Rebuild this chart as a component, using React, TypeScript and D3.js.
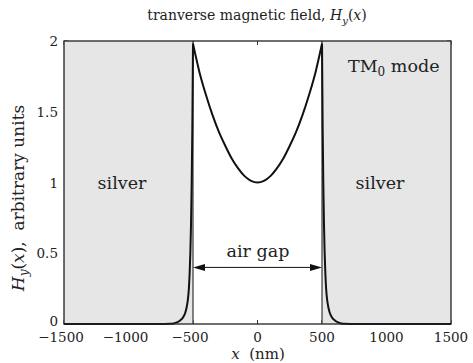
import React from "react";
import * as d3 from "d3";

const xTicks = [-1500, -1000, -500, 0, 500, 1000, 1500];
const xTickLabels = ["\u22121500", "\u22121000", "\u2212500", "0", "500", "1000", "1500"];
const yTicks = [0, 0.5, 1, 1.5, 2];
const yTickLabels = ["0", "0.5", "1", "1.5", "2"];
const silverLeft = [-1500, -500];
const silverRight = [500, 1500];
const gapEdges = [-500, 500];
const arrowLevel = 0.4;

const xNm = [
  -1500, -720, -680, -650, -625, -600, -575, -560, -550, -540, -532, -526, -520, -515, -510, -505,
  -500, -450, -400, -350, -300, -250, -200, -150, -100, -50, 0, 50, 100, 150, 200, 250, 300, 350,
  400, 450, 500, 505, 510, 515, 520, 526, 532, 540, 550, 560, 575, 600, 625, 650, 680, 720, 1500,
];
const hy = [
  0, 0, 0.001, 0.004, 0.011, 0.025, 0.05, 0.08, 0.115, 0.17, 0.25, 0.36, 0.52, 0.72, 1.0, 1.4,
  1.98, 1.78, 1.62, 1.48, 1.36, 1.26, 1.17, 1.1, 1.045, 1.012, 1.0, 1.012, 1.045, 1.1, 1.17, 1.26,
  1.36, 1.48, 1.62, 1.78, 1.98, 1.4, 1.0, 0.72, 0.52, 0.36, 0.25, 0.17, 0.115, 0.08, 0.05, 0.025,
  0.011, 0.004, 0.001, 0, 0,
];

const W = 473;
const H = 363;
const FONT = "'DejaVu Serif', serif";

export default function App() {
  const x = d3.scaleLinear().domain([-1500, 1500]).range([64, 451]);
  const y = d3.scaleLinear().domain([0, 2]).range([324, 41]);
  const pts: [number, number][] = xNm.map((v, i) => [v, hy[i]]);
  const segments = [
    pts.filter((p) => p[0] <= gapEdges[0]),
    pts.filter((p) => p[0] >= gapEdges[0] && p[0] <= gapEdges[1]),
    pts.filter((p) => p[0] >= gapEdges[1]),
  ];
  const line = d3
    .line<[number, number]>()
    .x((d) => x(d[0]))
    .y((d) => y(d[1]))
    .curve(d3.curveMonotoneX);

  const x0 = x.range()[0];
  const x1 = x.range()[1];
  const yTop = y(2);
  const yBot = y(0);
  const ay = y(arrowLevel);
  const aL = x(gapEdges[0]);
  const aR = x(gapEdges[1]);
  const ah = 12;
  const aw = 3.5;

  return (
    <svg
      width={W}
      height={H}
      style={{ position: "fixed", left: 0, top: 0, background: "#fff" }}
      fontFamily={FONT}
    >
      <rect x={0} y={0} width={W} height={H} fill="#fff" />
      {/* ticks */}
      {xTicks.map((t) => (
        <g key={"xt" + t}>
          <line x1={x(t)} x2={x(t)} y1={yBot} y2={yBot - 4} stroke="#333" strokeWidth={1} />
          <line x1={x(t)} x2={x(t)} y1={yTop} y2={yTop + 4} stroke="#333" strokeWidth={1} />
        </g>
      ))}
      {yTicks.map((t) => (
        <g key={"yt" + t}>
          <line x1={x0} x2={x0 + 4} y1={y(t)} y2={y(t)} stroke="#333" strokeWidth={1} />
          <line x1={x1} x2={x1 - 4} y1={y(t)} y2={y(t)} stroke="#333" strokeWidth={1} />
        </g>
      ))}
      {/* silver regions */}
      <rect
        x={x(silverLeft[0])}
        y={yTop}
        width={x(silverLeft[1]) - x(silverLeft[0])}
        height={yBot - yTop}
        fill="#e6e6e6"
      />
      <rect
        x={x(silverRight[0])}
        y={yTop}
        width={x(silverRight[1]) - x(silverRight[0])}
        height={yBot - yTop}
        fill="#e6e6e6"
      />
      {/* gap edges */}
      {gapEdges.map((g) => (
        <line key={"g" + g} x1={x(g)} x2={x(g)} y1={yBot} y2={yTop} stroke="#111" strokeWidth={1} />
      ))}
      {/* curve */}
      {segments.map((s, i) => (
        <path key={"c" + i} d={line(s) || ""} fill="none" stroke="#111" strokeWidth={2} strokeLinejoin="round" />
      ))}
      {/* arrow */}
      <line x1={aL + 4} x2={aR - 4} y1={ay} y2={ay} stroke="#111" strokeWidth={1} />
      <polygon points={`${aL},${ay} ${aL + ah},${ay - aw} ${aL + ah},${ay + aw}`} fill="#111" />
      <polygon points={`${aR},${ay} ${aR - ah},${ay - aw} ${aR - ah},${ay + aw}`} fill="#111" />
      {/* frame */}
      <rect x={x0} y={yTop} width={x1 - x0} height={yBot - yTop} fill="none" stroke="#222" strokeWidth={1.3} />
      {/* tick labels */}
      {xTicks.map((t, i) => (
        <text key={"xl" + t} x={x(t) - (t < 0 ? 3 : 0)} y={342} fontSize={13.5} textAnchor="middle" fill="#222">
          {xTickLabels[i]}
        </text>
      ))}
      {yTicks.map((t, i) => (
        <text
          key={"yl" + t}
          x={58}
          y={y(t) + 5 - (t === 0 ? 3 : 0)}
          fontSize={13.5}
          textAnchor="end"
          fill="#222"
        >
          {yTickLabels[i]}
        </text>
      ))}
      {/* title */}
      <text x={257} y={20} fontSize={14} textAnchor="middle" fill="#222">
        <tspan>tranverse magnetic field, </tspan>
        <tspan fontStyle="italic">H</tspan>
        <tspan fontStyle="italic" fontSize={10} dy={4}>y</tspan>
        <tspan dy={-4}>(</tspan>
        <tspan fontStyle="italic">x</tspan>
        <tspan>)</tspan>
      </text>
      {/* x label */}
      <text x={258} y={359} fontSize={15} textAnchor="middle" fill="#222">
        <tspan fontStyle="italic">x</tspan>
        <tspan>{"\u00a0\u00a0(nm)"}</tspan>
      </text>
      {/* y label */}
      <text transform="translate(24,198) rotate(-90)" fontSize={17} textAnchor="middle" fill="#222">
        <tspan fontStyle="italic">H</tspan>
        <tspan fontStyle="italic" fontSize={12} dy={4}>y</tspan>
        <tspan dy={-4}>(</tspan>
        <tspan fontStyle="italic">x</tspan>
        <tspan>{"),\u00a0\u00a0arbitrary units"}</tspan>
      </text>
      {/* annotations */}
      <text x={122} y={189} fontSize={17.5} textAnchor="middle" fill="#222">silver</text>
      <text x={380} y={189} fontSize={17.5} textAnchor="middle" fill="#222">silver</text>
      <text x={258} y={257} fontSize={17.5} textAnchor="middle" fill="#222">air gap</text>
      <text x={348} y={72} fontSize={17.5} fill="#222">
        <tspan>TM</tspan>
        <tspan fontSize={12} dy={4}>0</tspan>
        <tspan dy={-4}>{"\u00a0mode"}</tspan>
      </text>
    </svg>
  );
}
